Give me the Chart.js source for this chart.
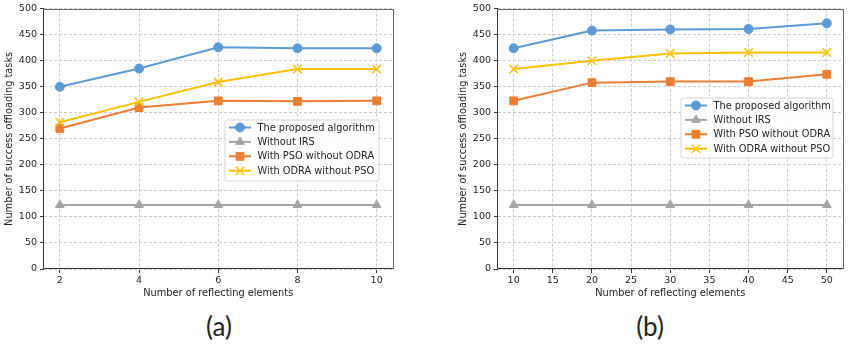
<!DOCTYPE html>
<html>
<head>
<meta charset="utf-8">
<script src="https://cdn.jsdelivr.net/npm/chart.js@4"></script>
<style>
  html, body { margin: 0; padding: 0; background: #fff; }
  body { width: 850px; height: 351px; position: relative; overflow: hidden; }
  .box { position: absolute; top: 0; height: 300px; }
  .cap { position: absolute; top: 310px; width: 60px; text-align: center;
         font-family: Lato, "DejaVu Sans", sans-serif; font-size: 26px; color: #222; }
</style>
</head>
<body>
<div class="box" style="left:0;width:400px"><canvas id="chart-a"></canvas></div>
<div class="box" style="left:454px;width:396px"><canvas id="chart-b"></canvas></div>
<div class="cap" style="left:189px">(a)</div>
<div class="cap" style="left:620px">(b)</div>
<script>
// (a) number of reflecting elements 2..10
const xA = [2, 4, 6, 8, 10];
const proposedA = [350, 385, 426, 424, 424];
const noIrsA = [123, 123, 123, 123, 123];
const psoA = [270, 310, 323, 322, 323];
const odraA = [282, 321, 359, 384, 384];

// (b) number of reflecting elements 10..50
const xB = [10, 20, 30, 40, 50];
const proposedB = [424, 458, 460, 461, 472];
const noIrsB = [123, 123, 123, 123, 123];
const psoB = [323, 358, 360, 360, 374];
const odraB = [384, 400, 414, 416, 416];

const xTicksA = [2, 4, 6, 8, 10];
const xTicksB = [10, 15, 20, 25, 30, 35, 40, 45, 50];

const seriesNames = ['The proposed algorithm', 'Without IRS', 'With PSO without ODRA', 'With ODRA without PSO'];

const styles = [
  { color: '#5b9bd5', pointStyle: 'circle', pointRadius: 4.5, pointBorderWidth: 1 },
  { color: '#a5a5a5', pointStyle: 'triangle', pointRadius: 5, pointBorderWidth: 1 },
  { color: '#ed7d31', pointStyle: 'rect', pointRadius: 5.5, pointBorderWidth: 1 },
  { color: '#ffc000', pointStyle: 'crossRot', pointRadius: 6, pointBorderWidth: 1.5 }
];

function makeDatasets(xs, lists) {
  return lists.map((ys, i) => {
    const s = styles[i];
    return {
      label: seriesNames[i],
      data: xs.map((x, j) => ({ x: x, y: ys[j] })),
      borderColor: s.color,
      backgroundColor: s.color,
      pointBackgroundColor: s.color,
      pointBorderColor: s.color,
      borderWidth: 2,
      pointStyle: s.pointStyle,
      pointRadius: s.pointRadius,
      pointBorderWidth: s.pointBorderWidth,
      order: 4 - i,
      tension: 0
    };
  });
}

const frameAndLegend = {
  id: 'frameAndLegend',
  afterDraw(chart, args, opts) {
    const ctx = chart.ctx, a = chart.chartArea;
    const l = Math.round(a.left) - 0.5, t = Math.round(a.top) + 0.5;
    const r0 = Math.round(a.right) + 0.5, b = Math.round(a.bottom) - 0.5;
    ctx.save();
    ctx.lineWidth = 1;
    ctx.strokeStyle = '#666';
    ctx.beginPath();
    ctx.moveTo(l, t); ctx.lineTo(r0, t); ctx.lineTo(r0, b);
    ctx.stroke();
    ctx.strokeStyle = '#333';
    ctx.beginPath();
    ctx.moveTo(l, t); ctx.lineTo(l, b); ctx.lineTo(r0, b);
    ctx.stroke();

    // legend box
    const x = opts.x, y = opts.y, w = opts.w, h = opts.h, r = 2;
    ctx.beginPath();
    ctx.moveTo(x + r, y);
    ctx.arcTo(x + w, y, x + w, y + h, r);
    ctx.arcTo(x + w, y + h, x, y + h, r);
    ctx.arcTo(x, y + h, x, y, r);
    ctx.arcTo(x, y, x + w, y, r);
    ctx.closePath();
    ctx.fillStyle = 'rgba(255,255,255,0.85)';
    ctx.fill();
    ctx.strokeStyle = '#d4d4d4';
    ctx.stroke();

    ctx.font = '9.8px "DejaVu Sans"';
    ctx.textBaseline = 'middle';
    chart.data.datasets.forEach((ds, i) => {
      const cy = y + 7.5 + i * 14.4;
      ctx.strokeStyle = ds.borderColor;
      ctx.lineWidth = 2;
      ctx.beginPath();
      ctx.moveTo(x + 4, cy);
      ctx.lineTo(x + 26, cy);
      ctx.stroke();
      ctx.fillStyle = ds.pointBackgroundColor;
      ctx.strokeStyle = ds.pointBorderColor;
      ctx.lineWidth = ds.pointBorderWidth;
      Chart.helpers.drawPoint(ctx, {
        pointStyle: ds.pointStyle, radius: ds.pointRadius,
        borderWidth: ds.pointBorderWidth, rotation: 0
      }, x + 15, cy);
      ctx.fillStyle = '#222';
      ctx.fillText(ds.label, x + 32.5, cy + 0.5);
    });
    ctx.restore();
  }
};

const tickFont = { family: 'DejaVu Sans', size: 9.5 };
const titleFont = { family: 'DejaVu Sans', size: 9.8 };

function makeChart(id, xs, lists, xTicks, xMin, xMax, legend, padRight) {
  const ctx = document.getElementById(id).getContext('2d');
  return new Chart(ctx, {
    type: 'line',
    data: { datasets: makeDatasets(xs, lists) },
    plugins: [frameAndLegend],
    options: {
      responsive: true,
      maintainAspectRatio: false,
      animation: false,
      layout: { padding: { top: 6, right: padRight, left: 0, bottom: 0 } },
      plugins: {
        legend: { display: false },
        tooltip: { enabled: false },
        frameAndLegend: legend
      },
      scales: {
        x: {
          type: 'linear',
          min: xMin,
          max: xMax,
          afterBuildTicks: s => { s.ticks = xTicks.map(v => ({ value: v })); },
          afterFit: s => { s.height = 31; },
          grid: { color: '#cccccc', tickBorderDash: [], tickColor: '#333', tickLength: 4 },
          border: { display: false, dash: [3, 2] },
          ticks: { color: '#222', font: tickFont, padding: 2, maxRotation: 0 },
          title: { display: true, text: 'Number of reflecting elements', color: '#222',
                   font: titleFont, padding: { top: 0, bottom: 0.5 } }
        },
        y: {
          min: 0,
          max: 500,
          ticks: { stepSize: 50, color: '#222', font: tickFont, padding: 3 },
          afterFit: s => { s.width = 44; },
          grid: { color: '#cccccc', tickBorderDash: [], tickColor: '#333', tickLength: 4 },
          border: { display: false, dash: [3, 2] },
          title: { display: true, text: 'Number of success offloading tasks', color: '#222',
                   font: titleFont, padding: { top: 3.5, bottom: 0 } }
        }
      }
    }
  });
}

makeChart('chart-a', xA, [proposedA, noIrsA, psoA, odraA], xTicksA, 1.6, 10.4,
          { x: 225, y: 120, w: 154, h: 61 }, 4);
makeChart('chart-b', xB, [proposedB, noIrsB, psoB, odraB], xTicksB, 8, 52,
          { x: 227, y: 98, w: 152, h: 60 }, 2);
</script>
</body>
</html>
